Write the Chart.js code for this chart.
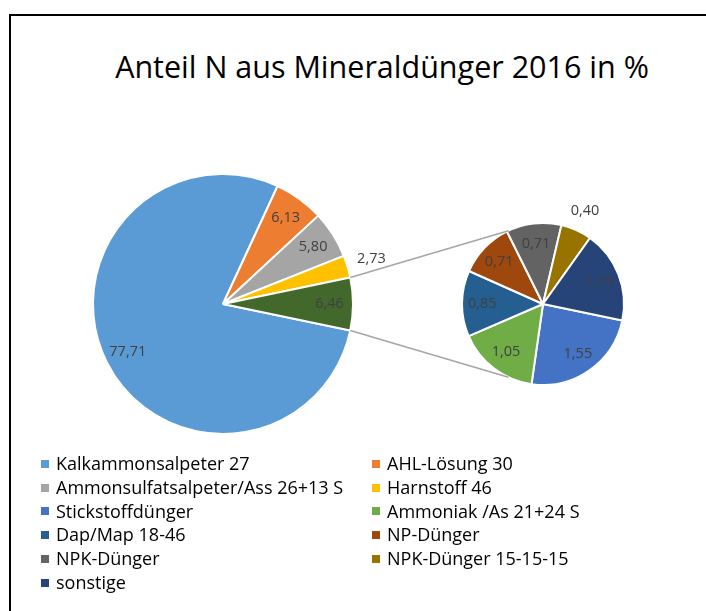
<!DOCTYPE html>
<html lang="de">
<head>
<meta charset="utf-8">
<title>Anteil N aus Mineraldünger 2016 in %</title>
<script src="https://cdn.jsdelivr.net/npm/chart.js@4.4.0/dist/chart.umd.min.js"></script>
<style>
  html, body { margin: 0; padding: 0; background: #fff; width: 706px; height: 611px; overflow: hidden; font-family: "Open Sans", sans-serif; }
  #frame { position: absolute; left: 9px; top: 14px; width: 760px; height: 700px; border: 2px solid #000; box-sizing: border-box; }
  #title { position: absolute; left: 9px; width: 746px; top: 46px; line-height: 40px; text-align: center; font-size: 30.5px; color: #000; }
  canvas { position: absolute; }
  #mainPie { left: 43px; top: 154px; }
  #subPie { left: 343px; top: 194px; }
  #legend { position: absolute; left: 41px; top: 452px; display: grid; grid-template-columns: 331px auto; font-size: 18px; line-height: 23.8px; color: #000; }
  #legend .item { display: flex; align-items: center; white-space: nowrap; }
  #legend .box { width: 8px; height: 8px; margin-right: 7px; flex: none; }
</style>
</head>
<body>
<div id="frame"></div>
<div id="title">Anteil N aus Mineraldünger 2016 in %</div>
<canvas id="mainPie" width="360" height="300"></canvas>
<canvas id="subPie" width="400" height="220"></canvas>
<div id="legend"></div>

<script>
// --- Daten ---
const mainLabels = ['Kalkammonsalpeter 27', 'AHL-Lösung 30', 'Ammonsulfatsalpeter/Ass 26+13 S', 'Harnstoff 46'];
const mainValues = [77.71, 6.13, 5.80, 2.73];
const otherLabel = 'Andere';
const otherValue = 6.46; // Summe der kleinen Torte

const subLabels = ['Stickstoffdünger', 'Ammoniak /As 21+24 S', 'Dap/Map 18-46', 'NP-Dünger', 'NPK-Dünger', 'NPK-Dünger 15-15-15', 'sonstige'];
const subValues = [1.55, 1.05, 0.85, 0.71, 0.71, 0.40, 1.19];

const mainColors = ['#5B9BD5', '#ED7D31', '#A5A5A5', '#FFC000'];
const otherColor = '#43682B';
const subColors = ['#4472C4', '#70AD47', '#255E91', '#9E480E', '#636363', '#997300', '#264478'];

// Startwinkel: "Andere" liegt mittig auf 3 Uhr
const total = mainValues.reduce((a, b) => a + b, 0) + otherValue;
const startRotation = 90 + (otherValue / total) * 180;

// Zahlen auf den Stücken (innen, oder außen wenn zu schmal)
const sliceLabels = {
  id: 'sliceLabels',
  afterDatasetsDraw(chart, args, opts) {
    const ctx = chart.ctx;
    const meta = chart.getDatasetMeta(0);
    const values = chart.data.datasets[0].data;
    ctx.save();
    ctx.font = '14.5px "Open Sans"';
    ctx.fillStyle = '#404040';
    ctx.textAlign = 'center';
    ctx.textBaseline = 'middle';
    meta.data.forEach((arc, i) => {
      const p = arc.getProps(['x', 'y', 'startAngle', 'endAngle', 'outerRadius']);
      const mid = (p.startAngle + p.endAngle) / 2;
      const text = values[i].toFixed(2).replace('.', ',');
      const w = ctx.measureText(text).width;
      let r = p.outerRadius * opts.inside;
      const chord = 2 * r * Math.sin((p.endAngle - p.startAngle) / 2);
      if (chord < w) r = p.outerRadius + opts.outside;
      ctx.fillText(text, p.x + Math.cos(mid) * r, p.y + Math.sin(mid) * r);
    });
    ctx.restore();
  }
};

const mainChart = new Chart(document.getElementById('mainPie'), {
  type: 'pie',
  data: {
    labels: mainLabels.concat([otherLabel]),
    datasets: [{
      data: mainValues.concat([otherValue]),
      backgroundColor: mainColors.concat([otherColor]),
      borderColor: '#fff',
      borderWidth: 2
    }]
  },
  options: {
    responsive: false,
    animation: false,
    events: [],
    radius: 130,
    rotation: startRotation,
    layout: { padding: 0 },
    plugins: {
      legend: { display: false },
      tooltip: { enabled: false },
      sliceLabels: { inside: 0.82, outside: 25 }
    }
  },
  plugins: [sliceLabels]
});

// Verbindungslinien zwischen großer und kleiner Torte
const connectors = {
  id: 'connectors',
  afterDraw(chart) {
    const ctx = chart.ctx;
    const otherArc = mainChart.getDatasetMeta(0).data[mainValues.length];
    const m = otherArc.getProps(['x', 'y', 'startAngle', 'endAngle', 'outerRadius']);
    const a = mainChart.canvas.getBoundingClientRect();
    const b = chart.canvas.getBoundingClientRect();
    const dx = a.left - b.left, dy = a.top - b.top;
    const s = chart.getDatasetMeta(0).data[0].getProps(['x', 'y', 'outerRadius']);
    const ang = 0.64 * Math.PI;
    ctx.save();
    ctx.strokeStyle = '#A6A6A6';
    ctx.lineWidth = 1.5;
    ctx.beginPath();
    ctx.moveTo(m.x + dx + Math.cos(m.startAngle) * m.outerRadius, m.y + dy + Math.sin(m.startAngle) * m.outerRadius);
    ctx.lineTo(s.x + Math.cos(-ang) * s.outerRadius, s.y + Math.sin(-ang) * s.outerRadius);
    ctx.moveTo(m.x + dx + Math.cos(m.endAngle) * m.outerRadius, m.y + dy + Math.sin(m.endAngle) * m.outerRadius);
    ctx.lineTo(s.x + Math.cos(ang) * s.outerRadius, s.y + Math.sin(ang) * s.outerRadius);
    ctx.stroke();
    ctx.restore();
  }
};

new Chart(document.getElementById('subPie'), {
  type: 'pie',
  data: {
    labels: subLabels,
    datasets: [{
      data: subValues,
      backgroundColor: subColors,
      borderColor: '#fff',
      borderWidth: 2
    }]
  },
  options: {
    responsive: false,
    animation: false,
    events: [],
    radius: 81,
    rotation: startRotation,
    layout: { padding: 0 },
    plugins: {
      legend: { display: false },
      tooltip: { enabled: false },
      sliceLabels: { inside: 0.75, outside: 21 }
    }
  },
  plugins: [sliceLabels, connectors]
});

// Legende: große Torte, dann kleine Torte, zwei Spalten
const legendEl = document.getElementById('legend');
mainLabels.concat(subLabels).forEach((label, i) => {
  const color = mainColors.concat(subColors)[i];
  const item = document.createElement('div');
  item.className = 'item';
  item.innerHTML = '<span class="box" style="background:' + color + '"></span><span>' + label + '</span>';
  legendEl.appendChild(item);
});
</script>
</body>
</html>
